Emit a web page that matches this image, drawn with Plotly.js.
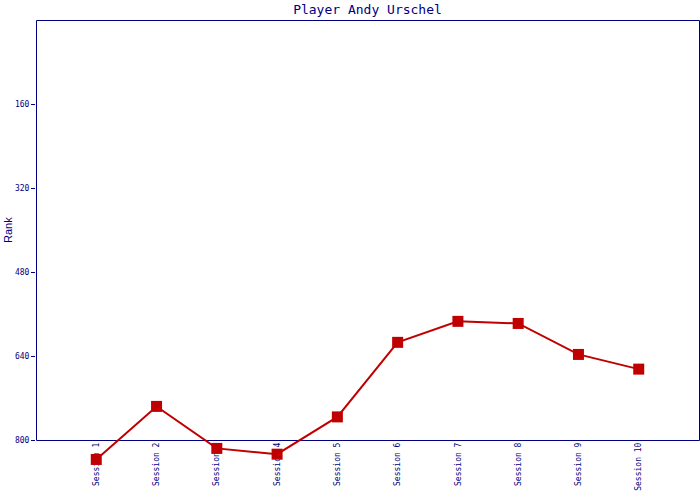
<!DOCTYPE html>
<html>
<head>
<meta charset="utf-8">
<script src="https://cdn.plot.ly/plotly-3.0.1.min.js"></script>
<style>html,body{margin:0;padding:0;background:#fff;}#chart{width:700px;height:500px;}</style>
</head>
<body>
<div id="chart"></div>
<script>
var sessions = ["Session 1","Session 2","Session 3","Session 4","Session 5","Session 6","Session 7","Session 8","Session 9","Session 10"];
var ranks = [837, 736, 816, 827, 756, 614, 574, 578, 637, 665];
var rankTicks = [160, 320, 480, 640, 800];

var navy = "#000080";
var red = "#c00000";
var mono = "DejaVu Sans Mono, Liberation Mono, monospace";

var trace = {
  x: sessions.map(function(s, i){ return i; }),
  y: ranks,
  type: "scatter",
  mode: "lines+markers",
  line: {color: red, width: 2},
  marker: {symbol: "square", size: 11, color: red},
  cliponaxis: false,
  hoverinfo: "skip"
};

// plot area spans y px 20..470; data 0..800 maps to 20..440
var pxPerUnit = 420 / 800;
var bottomVal = 450 / pxPerUnit;
var halfPxY = 0.5 / pxPerUnit;
var halfPxX = 0.5 / 663;

var layout = {
  width: 700, height: 500,
  margin: {l: 36, r: 1, t: 20, b: 30, pad: 0},
  paper_bgcolor: "#ffffff",
  plot_bgcolor: "#ffffff",
  showlegend: false,
  title: {text: "Player Andy Urschel", font: {family: mono, size: 13, color: navy}, x: 0.525, xanchor: "center", y: 0.982, yanchor: "middle"},
  xaxis: {
    range: [-1, 10],
    tickvals: sessions.map(function(s, i){ return i; }),
    ticktext: sessions,
    tickangle: -90,
    tickfont: {family: mono, size: 8, color: navy},
    showgrid: false, zeroline: false, showline: false,
    ticks: "",
    anchor: "free",
    position: 30 / 450,
    layer: "below traces",
    fixedrange: true
  },
  yaxis: {
    range: [bottomVal, 0],
    tickvals: rankTicks,
    ticktext: rankTicks.map(String),
    tickfont: {family: mono, size: 8, color: navy},
    ticks: "outside", ticklen: 4, tickcolor: navy, tickwidth: 1,
    showgrid: false, zeroline: false, showline: false,
    layer: "below traces",
    fixedrange: true
  },
  shapes: [{
    type: "rect", xref: "paper", yref: "y",
    x0: halfPxX, x1: 1 + halfPxX, y0: halfPxY, y1: 800 + halfPxY,
    line: {color: navy, width: 1}, fillcolor: "rgba(0,0,0,0)",
    layer: "below"
  }],
  annotations: [{
    text: "Rank", xref: "paper", yref: "y",
    x: -36/663, xanchor: "left", y: 400, yanchor: "middle",
    textangle: -90, showarrow: false,
    font: {family: "Liberation Sans, Arial, sans-serif", size: 11, color: navy}
  }]
};

Plotly.newPlot("chart", [trace], layout, {displayModeBar: false, staticPlot: true});
</script>
</body>
</html>
